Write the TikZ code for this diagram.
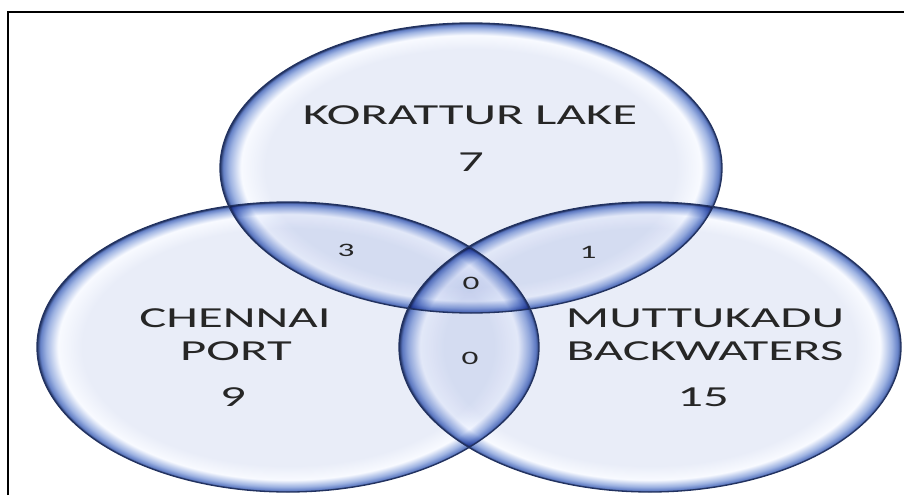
\documentclass[tikz,border=0pt]{standalone}
\usepackage{fontspec}
\setmainfont[FakeStretch=1.75]{Carlito}
\usetikzlibrary{shapes.geometric}
\definecolor{gin}{RGB}{233,237,248}
\definecolor{ghi}{RGB}{248,250,255}
\definecolor{gmid}{RGB}{158,179,226}
\definecolor{gedge}{RGB}{100,128,198}
\definecolor{gdark}{RGB}{34,50,96}
\definecolor{txt}{RGB}{38,38,38}
\pgfdeclareradialshading{glass}{\pgfpoint{0bp}{0bp}}{%
  color(0bp)=(gin); color(20.5bp)=(gin); color(22.9bp)=(ghi);
  color(24.1bp)=(gmid); color(24.7bp)=(gedge); color(25bp)=(gdark); color(50bp)=(gdark)}
\tikzset{
  venn/.style={ellipse, inner sep=0pt, minimum width=502pt, minimum height=290pt,
    shading=glass, blend mode=multiply},
  rim/.style={ellipse, inner sep=0pt, minimum width=502pt, minimum height=290pt,
    draw=gdark, line width=1.3pt},
  lbl/.style={text=txt, font=\fontsize{29}{33}\selectfont, inner sep=0pt, align=center},
  small/.style={text=txt, font=\fontsize{19}{22}\selectfont, inner sep=0pt},
  frame/.style={draw=black, line width=1.3pt}
}
\begin{document}
\begin{tikzpicture}[x=1pt,y=-1pt]
\useasboundingbox (0,0) rectangle (904,495);
\coordinate (f1) at (8,495);
\coordinate (f2) at (8,12);
\coordinate (f3) at (904,12);
\draw[frame] (f1) -- (f2) -- (f3);
\node[venn] (kor) at (471,168) {};
\node[venn] (che) at (288,347) {};
\node[venn] (mut) at (650,347) {};
\node[rim] (korr) at (471,168) {};
\node[rim] (cher) at (288,347) {};
\node[rim] (mutr) at (650,347) {};
\node[lbl] (korl) at (470,115.5) {KORATTUR LAKE};
\node[lbl] (kor7) at (471,162) {7};
\node[lbl] (chel1) at (235,318) {CHENNAI};
\node[lbl] (chel2) at (236,351) {PORT};
\node[lbl] (che9) at (233,397) {9};
\node[lbl] (mutl1) at (705,318) {MUTTUKADU};
\node[lbl] (mutl2) at (705,351) {BACKWATERS};
\node[lbl] (mut15) at (703,397) {15};
\node[small] (kc) at (346,250) {3};
\node[small] (km) at (588,252) {1};
\node[small] (kcm) at (471,283) {0};
\node[small] (cm) at (470,358) {0};
\end{tikzpicture}
\end{document}
